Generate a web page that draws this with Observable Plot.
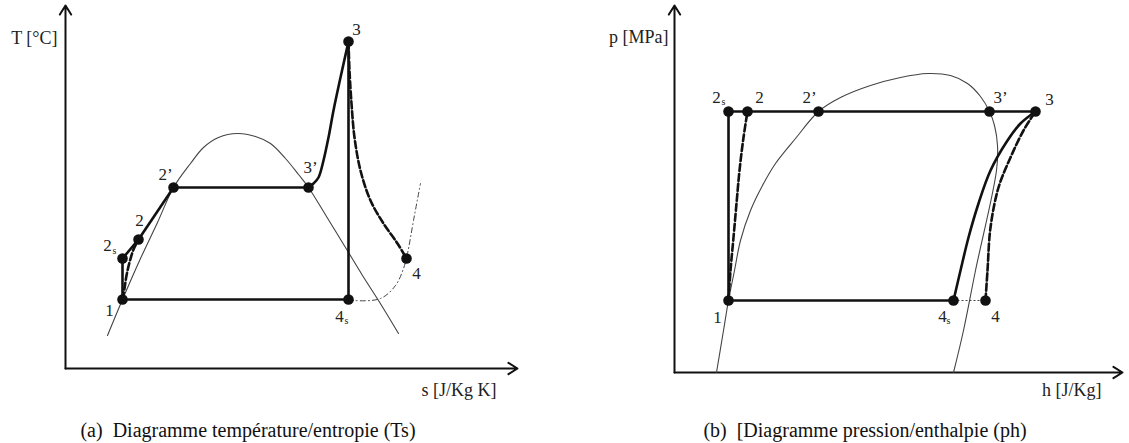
<!DOCTYPE html>
<html><head><meta charset="utf-8">
<script src="https://cdn.jsdelivr.net/npm/d3@7"></script>
<script src="https://cdn.jsdelivr.net/npm/@observablehq/plot@0.6"></script>
<style>
html,body{margin:0;padding:0;background:#fff;width:1129px;height:443px;overflow:hidden;}
#wrap{display:flex;}
.cap{font-family:"Liberation Serif","Times New Roman",Times,"DejaVu Serif",serif;font-size:20px;line-height:24px;white-space:pre;color:#111;position:absolute;top:418px;transform:translateX(-50%);}
</style></head><body>
<div id="wrap"><div id="a"></div><div id="b"></div></div>
<div class="cap" id="capA" style="left:248px">(a)  Diagramme température/entropie (Ts)</div>
<div class="cap" id="capB" style="left:865px">(b)  [Diagramme pression/enthalpie (ph)</div>
<script>
// ---------- (a) T-s diagram, arbitrary units ----------
const tsNames = ["1", "2s", "2", "2’", "3’", "3", "4s", "4"];
const tsS = [57, 57, 73, 108, 243, 283, 283, 341];
const tsT = [69, 110, 129, 181, 181, 327, 69, 110];
const tsDomeS = [42, 57, 75, 92, 108, 125, 138, 153, 172, 190, 205, 220, 233, 243, 261, 280, 297, 313, 333];
const tsDomeT = [33, 69, 110, 146, 181, 205, 221, 231, 235, 232, 225, 210, 194, 181, 152, 121, 93, 68, 35];
const tsSuperS = [243, 248, 253, 258, 263, 268, 275, 283];
const tsSuperT = [181, 185, 191, 208, 231, 258, 291, 327];
const tsExpS = [283, 284, 286, 289, 295, 305, 318, 332, 341];
const tsExpT = [327, 298, 265, 231, 198, 168, 145, 125, 110];
const tsIsobarS = [283, 288, 315, 330, 338, 342, 348, 355];
const tsIsobarT = [69, 68, 70, 83, 100, 115, 148, 185];
const tsPumpS = [57, 59, 61, 64, 68, 73];
const tsPumpT = [69, 80, 93, 106, 119, 129];
const tsSegments = [["1", "2s"], ["2s", "2"], ["2", "2’"], ["2’", "3’"], ["3", "4s"], ["1", "4s"]];
const tsLabels = ["1", "2", "2", "2’", "3’", "3", "4", "4"];
const tsLabelS = [44, 42, 74, 100, 245, 291, 274, 351];
const tsLabelT = [58, 123, 148, 194, 201, 339, 52, 95];
const tsSubS = [49, 281];
const tsSubT = [118, 48];
const tsAxisEnd = {s: 452, T: 363};
const tsAxisTitles = ["T [°C]", "s [J/Kg K]"];
const tsAxisTitleS = [-8, 431];
const tsAxisTitleT = [330, -22];

// ---------- (b) p-h diagram, arbitrary units ----------
const phNames = ["1", "2s", "2", "2’", "3’", "3", "4s", "4"];
const phH = [54, 54, 73, 144, 315, 361, 279, 311];
const phP = [72, 261, 261, 261, 261, 261, 72, 72];
const phDomeH = [42, 49, 54, 60, 66, 76, 88, 101, 121, 144, 166, 196, 226, 253, 276, 293, 306, 315, 320, 323, 322, 301, 289, 279];
const phDomeP = [0, 42, 72, 102, 132, 162, 187, 209, 234, 261, 275, 287, 295, 299, 297, 289, 276, 261, 247, 227, 202, 102, 42, 0];
const phTurbH = [279, 286, 294, 304, 316, 333, 346, 361];
const phTurbP = [72, 102, 135, 169, 202, 232, 249, 261];
const phTurbRealH = [311, 313, 316, 324, 336, 349, 361];
const phTurbRealP = [72, 102, 145, 185, 215, 242, 261];
const phPumpH = [54, 56, 59, 62, 65, 69, 73];
const phPumpP = [72, 102, 135, 169, 202, 235, 261];
const phSegments = [["1", "2s"], ["2s", "3"], ["1", "4s"]];
const phLabels = ["1", "2", "2", "2’", "3’", "3", "4", "4"];
const phLabelH = [43, 42, 85, 135, 326, 375, 268, 321];
const phLabelP = [55, 275, 275, 275, 275, 273, 56, 56];
const phSubH = [49, 274];
const phSubP = [271, 52];
const phAxisEnd = {h: 448, p: 367};
const phAxisTitles = ["p [MPa]", "h [J/Kg]"];
const phAxisTitleH = [-6, 427];
const phAxisTitleP = [335, -18];

const zip = (xs, ys) => xs.map((x, i) => ({x, y: ys[i]}));
const FONT = "'Liberation Serif', 'Times New Roman', Times, 'DejaVu Serif', serif";
const INK = "#111";

function diagram({width, xDomain, yDomain, names, xs, ys, dome, solidCurves, dashedCurves, dashDot, dotted, segments,
                  labels, labelX, labelY, subX, subY, axisEnd, titles, titleX, titleY}) {
  const pts = new Map(names.map((n, i) => [n, {x: xs[i], y: ys[i]}]));
  const segs = segments.map(([a, b]) => ({x1: pts.get(a).x, y1: pts.get(a).y, x2: pts.get(b).x, y2: pts.get(b).y}));
  const marks = [
    Plot.arrow([{x1: 0, y1: 0, x2: 0, y2: axisEnd[1]}, {x1: 0, y1: 0, x2: axisEnd[0], y2: 0}],
      {x1: "x1", y1: "y1", x2: "x2", y2: "y2", stroke: INK, strokeWidth: 2, headLength: 8, headAngle: 64}),
    Plot.line(dome, {x: "x", y: "y", curve: "catmull-rom", stroke: "#444", strokeWidth: 1.1}),
    ...dashDot.map(d => Plot.line(d, {x: "x", y: "y", curve: "catmull-rom", stroke: "#444", strokeWidth: 1, strokeDasharray: "5,3,1,3"})),
    ...dotted.map(d => Plot.link([d], {x1: "x1", y1: "y1", x2: "x2", y2: "y2", stroke: "#444", strokeWidth: 1, strokeDasharray: "2,2"})),
    Plot.link(segs, {x1: "x1", y1: "y1", x2: "x2", y2: "y2", stroke: INK, strokeWidth: 2.6}),
    ...solidCurves.map(d => Plot.line(d, {x: "x", y: "y", curve: "catmull-rom", stroke: INK, strokeWidth: 2.6})),
    ...dashedCurves.map(d => Plot.line(d, {x: "x", y: "y", curve: "catmull-rom", stroke: INK, strokeWidth: 2.6, strokeDasharray: "7,3"})),
    Plot.dot(names.map(n => pts.get(n)), {x: "x", y: "y", r: 5.3, fill: INK, stroke: "none"}),
    Plot.text(labels.map((t, i) => ({t, x: labelX[i], y: labelY[i]})), {x: "x", y: "y", text: "t", fontSize: 17, fill: "#222"}),
    Plot.text(subX.map((x, i) => ({t: "s", x, y: subY[i]})), {x: "x", y: "y", text: "t", fontSize: 10, fill: "#222"}),
    Plot.text(titles.map((t, i) => ({t, x: titleX[i], y: titleY[i]})), {x: "x", y: "y", text: "t", fontSize: 18, textAnchor: "end", fill: "#222"})
  ];
  return Plot.plot({
    width, height: 410,
    margin: 0,
    x: {domain: xDomain, range: [0, width], axis: null},
    y: {domain: yDomain, range: [410, 0], axis: null},
    style: {fontFamily: FONT, background: "white", overflow: "visible"},
    marks
  });
}

const ptsOf = (names, xs, ys) => new Map(names.map((n, i) => [n, {x: xs[i], y: ys[i]}]));
const phPts = ptsOf(phNames, phH, phP);

document.getElementById("a").append(diagram({
  width: 564, xDomain: [-65, 499], yDomain: [-42, 368],
  names: tsNames, xs: tsS, ys: tsT,
  dome: zip(tsDomeS, tsDomeT),
  solidCurves: [zip(tsSuperS, tsSuperT)],
  dashedCurves: [zip(tsExpS, tsExpT), zip(tsPumpS, tsPumpT)],
  dashDot: [zip(tsIsobarS, tsIsobarT)],
  dotted: [],
  segments: tsSegments,
  labels: tsLabels, labelX: tsLabelS, labelY: tsLabelT, subX: tsSubS, subY: tsSubT,
  axisEnd: [tsAxisEnd.s, tsAxisEnd.T],
  titles: tsAxisTitles, titleX: tsAxisTitleS, titleY: tsAxisTitleT
}));

document.getElementById("b").append(diagram({
  width: 565, xDomain: [-110, 455], yDomain: [-38, 372],
  names: phNames, xs: phH, ys: phP,
  dome: zip(phDomeH, phDomeP),
  solidCurves: [zip(phTurbH, phTurbP)],
  dashedCurves: [zip(phTurbRealH, phTurbRealP), zip(phPumpH, phPumpP)],
  dashDot: [],
  dotted: [{x1: phPts.get("4s").x, y1: phPts.get("4s").y, x2: phPts.get("4").x, y2: phPts.get("4").y}],
  segments: phSegments,
  labels: phLabels, labelX: phLabelH, labelY: phLabelP, subX: phSubH, subY: phSubP,
  axisEnd: [phAxisEnd.h, phAxisEnd.p],
  titles: phAxisTitles, titleX: phAxisTitleH, titleY: phAxisTitleP
}));
</script></body></html>
